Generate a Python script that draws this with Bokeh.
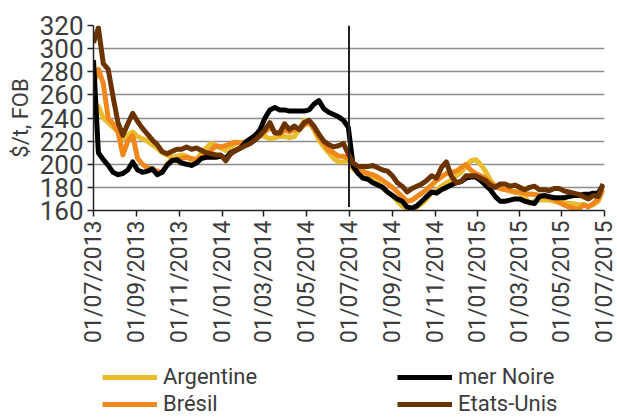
import math
import pandas as pd
from bokeh.plotting import figure
from bokeh.layouts import column
from bokeh.models import (DatetimeTickFormatter, FixedTicker, Legend, LegendItem,
                          Range1d, ColumnDataSource)
from bokeh.embed import file_html
from bokeh.resources import INLINE

# ---------------- data (weekly readings, $/t FOB) ----------------
start_date = "2013-07-01"
n_weeks = 105
dates = pd.date_range(start_date, periods=n_weeks, freq="7D")

argentine = [245, 250, 240, 236, 232, 228, 222, 225, 228, 224, 222, 220, 217, 214, 210, 208,
             206, 207, 208, 207, 203, 204, 210, 214, 218, 216,
             214, 212, 215, 218, 219, 219, 220, 222, 225, 224, 222, 223, 224, 224, 223, 224,
             230, 238, 236, 230, 221, 215, 210, 205, 202, 202, 204,
             196, 193, 190, 189, 187, 184, 180, 176, 173, 168, 164, 161, 160, 163, 166, 170,
             175, 178, 181, 184, 186, 190, 193, 198, 203, 204, 200, 194, 186, 181, 179, 178,
             177, 176, 175, 172, 166, 168, 169, 169, 169, 168, 167, 167, 166, 166, 165, 165,
             164, 165, 168, 178]
bresil = [270, 282, 270, 240, 235, 228, 208, 220, 225, 205, 200, 197, 196, 194, 193, 200,
          204, 203, 205, 206, 205, 204, 206, 208, 212, 216,
          215, 216, 218, 219, 218, 219, 220, 222, 225, 228, 232, 228, 226, 230, 228, 230,
          230, 234, 236, 231, 224, 218, 212, 210, 207, 207, 205,
          198, 196, 194, 192, 191, 189, 186, 183, 180, 176, 172, 168, 169, 172, 175, 178,
          182, 186, 189, 192, 193, 194, 197, 200, 195, 192, 190, 188, 184, 181, 179, 178,
          177, 176, 176, 175, 174, 174, 173, 172, 171, 170, 167, 165, 163, 162, 161, 165,
          163, 166, 170, 178]
mer_noire = [290, 210, 204, 199, 193, 191, 192, 195, 202, 195, 193, 194, 196, 191, 193, 199,
             203, 204, 201, 200, 199, 201, 205, 206, 206, 206,
             207, 205, 210, 212, 214, 219, 222, 225, 230, 240, 247, 249, 247, 247, 246, 246,
             246, 246, 247, 252, 255, 248, 245, 243, 241, 238, 232,
             198, 192, 188, 187, 184, 182, 180, 176, 173, 170, 168, 163, 162, 164, 168, 172,
             176, 175, 178, 180, 182, 184, 185, 188, 189, 189, 186, 182, 178, 172, 168, 168,
             169, 170, 170, 168, 167, 166, 172, 173, 172, 171, 171, 171, 172, 173, 173, 174,
             174, 175, 175, 182]
etats_unis = [305, 318, 287, 282, 258, 236, 225, 235, 244, 237, 231, 226, 221, 217, 211, 209,
              211, 213, 213, 215, 213, 214, 212, 210, 209, 208,
              208, 203, 209, 212, 214, 216, 218, 221, 225, 230, 236, 227, 227, 235, 230, 233,
              230, 236, 238, 233, 226, 220, 217, 215, 216, 218, 209,
              201, 198, 198, 198, 199, 197, 195, 194, 190, 184, 181, 176, 179, 181, 183, 186,
              190, 188, 197, 202, 190, 184, 185, 190, 190, 190, 188, 186, 182, 180, 183, 183,
              181, 182, 180, 178, 180, 181, 178, 178, 177, 179, 179, 177, 176, 175, 174, 172,
              170, 173, 172, 183]

series_names = ["Argentine", "Brésil", "mer Noire", "Etats-Unis"]
series_colors = ["#E8BE30", "#F0881C", "#000000", "#6B3300"]

tick_dates = ["2013-07-01", "2013-09-01", "2013-11-01", "2014-01-01", "2014-03-01",
              "2014-05-01", "2014-07-01", "2014-09-01", "2014-11-01", "2015-01-01",
              "2015-03-01", "2015-05-01", "2015-07-01"]
y_ticks = [160, 180, 200, 220, 240, 260, 280, 300, 320]
event_date = ["2014-07-01"]
event_y0 = [163]
event_y1 = [320]

# ---------------- main figure ----------------
def ms(d):
    return pd.Timestamp(d).value / 1e6

font = "Roboto"
text_col = "#3c3c3c"

p = figure(frame_width=511, frame_height=185, x_axis_type="datetime", output_backend="svg",
           toolbar_location=None,
           x_range=Range1d(ms(tick_dates[0]), ms(tick_dates[-1])),
           y_range=Range1d(y_ticks[0], y_ticks[-1]),
           min_border_left=93, min_border_right=13, min_border_top=25, min_border_bottom=140)
p.outline_line_color = None
p.background_fill_color = "white"
p.border_fill_color = "white"

src = ColumnDataSource(dict(x=dates, a=argentine, b=bresil, m=mer_noire, e=etats_unis))
renderers = []
for col, color in zip(["a", "b", "m", "e"], series_colors):
    r = p.line("x", col, source=src, line_color=color, line_width=5, line_join="round")
    renderers.append(r)

p.segment(x0=[pd.Timestamp(d) for d in event_date], y0=event_y0,
          x1=[pd.Timestamp(d) for d in event_date], y1=event_y1,
          line_color="#222222", line_width=2)

p.xaxis.ticker = FixedTicker(ticks=[ms(d) for d in tick_dates])
fmt = "%d/%m/%Y"
p.xaxis.formatter = DatetimeTickFormatter(microseconds=fmt, milliseconds=fmt, seconds=fmt,
                                          minsec=fmt, minutes=fmt, hourmin=fmt, hours=fmt,
                                          days=fmt, months=fmt, years=fmt)
p.xaxis.major_label_orientation = math.pi / 2
p.yaxis.ticker = FixedTicker(ticks=y_ticks)
p.yaxis.axis_label = "$/t, FOB"

for ax in (p.xaxis, p.yaxis):
    ax.axis_line_color = "#222222"
    ax.axis_line_width = 1.5
    ax.major_tick_line_color = "#222222"
    ax.major_tick_line_width = 1.5
    ax.major_tick_in = 0
    ax.major_tick_out = 6
    ax.minor_tick_line_color = None
    ax.major_label_text_font = font
    ax.major_label_text_color = text_col
    ax.axis_label_text_font = font
    ax.axis_label_text_color = text_col
    ax.axis_label_text_font_style = "normal"

p.xaxis.major_label_text_font_size = "23px"
p.yaxis.major_label_text_font_size = "26px"
p.yaxis.axis_label_text_font_size = "22px"
p.yaxis.axis_label_standoff = 4
p.xaxis.major_label_standoff = 4
p.yaxis.major_label_standoff = 4

p.xgrid.grid_line_color = None
p.ygrid.grid_line_color = "#8c8c8c"
p.ygrid.grid_line_width = 1.5

# ---------------- legend strip ----------------
leg = figure(width=617, height=66, output_backend="svg", toolbar_location=None,
             x_range=Range1d(0, 1), y_range=Range1d(0, 1),
             x_axis_location=None, y_axis_location=None,
             min_border_left=0, min_border_right=0, min_border_top=0, min_border_bottom=0)
leg.outline_line_color = None
leg.grid.visible = False
# off-range placeholder lines: they only provide the legend swatches
leg_renderers = [leg.line(x=[-2, -1], y=[-2, -2], line_color=c, line_width=5) for c in series_colors]

legend = Legend(items=[LegendItem(label=n, renderers=[r]) for n, r in zip(series_names, leg_renderers)],
                ncols=2, orientation="vertical", location=(9, 0),
                label_text_font=font, label_text_font_size="22px", label_text_color=text_col,
                glyph_width=55, glyph_height=22, label_standoff=6, label_width=232,
                label_height=22, spacing=2, padding=0, margin=0,
                border_line_color=None, background_fill_alpha=0)
leg.add_layout(legend, "center")

open("out.html", "w").write(file_html(column(p, leg, spacing=0), INLINE))
